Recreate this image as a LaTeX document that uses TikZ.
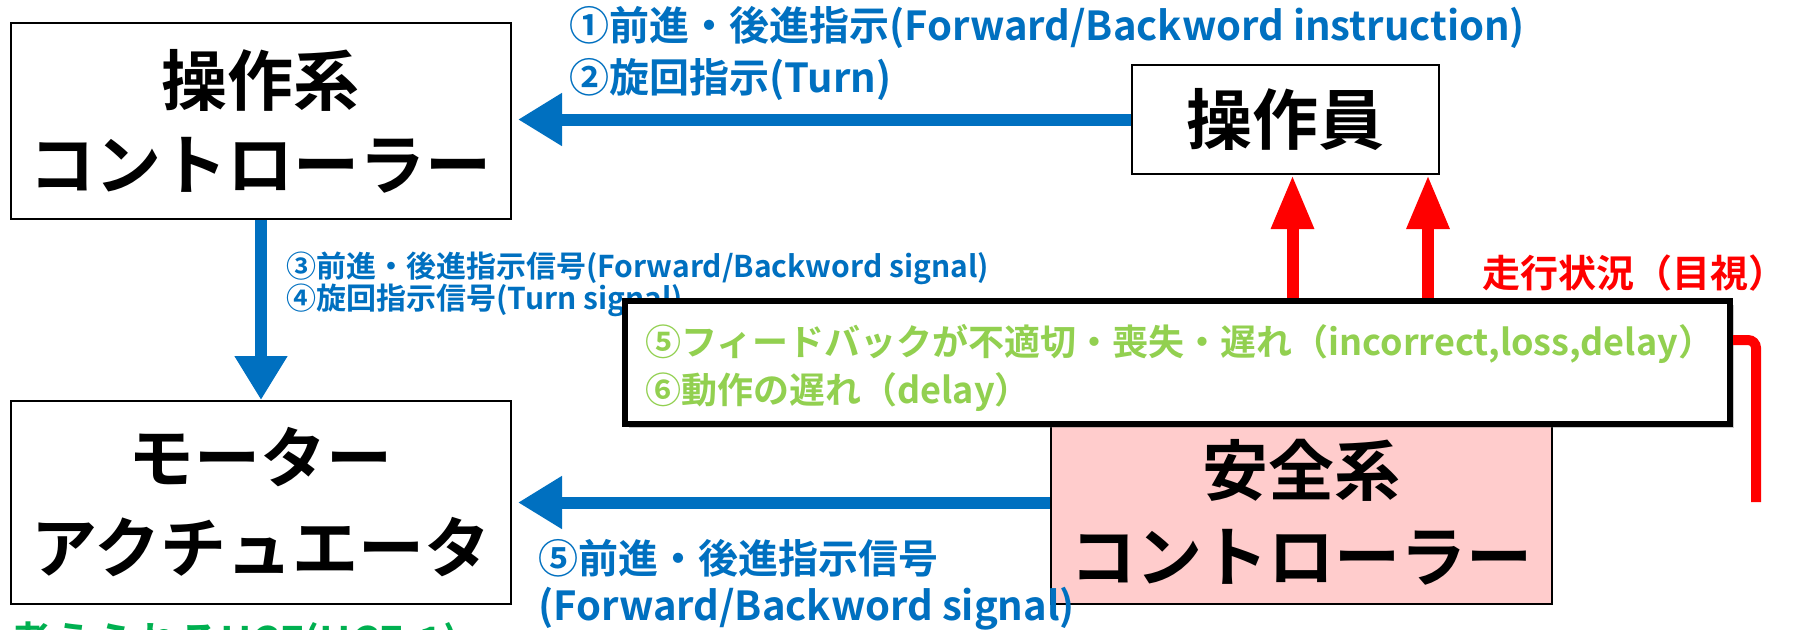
\documentclass[tikz,border=0pt]{standalone}
\usepackage{fontspec}
\newfontfamily\jp{Noto Sans CJK JP Bold}
\usetikzlibrary{arrows.meta,calc,shadows}
\definecolor{myblue}{HTML}{0070C0}
\definecolor{myred}{HTML}{FF0000}
\definecolor{lgreen}{HTML}{92D050}
\definecolor{dgreen}{HTML}{00B050}
\definecolor{pinkfill}{HTML}{FFCCCC}
\tikzset{
  box/.style={draw=black, line width=1pt, fill=white, inner sep=0pt, align=center,
    font=\jp\fontsize{33}{42}\selectfont},
  bluearrow/.style={draw=myblue, line width=6pt, -{Triangle[width=25pt,length=22pt]}},
  redarrow/.style={draw=myred, line width=6pt, -{Triangle[width=20pt,length=27pt]}},
  lbl/.style={inner sep=0pt, anchor=base west},
  bluelbl/.style={lbl, text=myblue, font=\jp\fontsize{20}{24}\selectfont},
  smalllbl/.style={lbl, text=myblue, font=\jp\fontsize{15}{18}\selectfont},
  greenlbl/.style={lbl, text=lgreen, font=\jp\fontsize{18}{22}\selectfont},
}
\begin{document}
\begin{tikzpicture}[x=0.5pt,y=-0.5pt]
\useasboundingbox (0,0) rectangle (1796,629);
\clip (0,0) rectangle (1796,629);
\fill[white] (0,0) rectangle (1796,629);

% boxes
\node[box, minimum width=250pt, minimum height=98pt] (A) at (261,121) {操作系\\コントローラー};
\node[box, minimum width=153.5pt, minimum height=54.5pt] (B) at (1285.5,119.5) {操作員};
\node[box, minimum width=250pt, minimum height=101.5pt, font=\jp\fontsize{33}{45}\selectfont] (C) at (261,502.5) {モーター\\アクチュエータ};
\node[box, fill=pinkfill, minimum width=250.5pt, minimum height=92pt, font=\jp\fontsize{33}{43}\selectfont] (D) at (1301.5,512) {安全系\\コントローラー};

% blue labels
\node[bluelbl] (L1) at (569,40) {①前進・後進指示(Forward/Backword instruction)};
\node[bluelbl] (L2) at (569,92) {②旋回指示(Turn)};
\node[smalllbl] (L3) at (286,277) {③前進・後進指示信号(Forward/Backword signal)};
\node[smalllbl] (L4) at (286,309) {④旋回指示信号(Turn signal)};
\node[bluelbl] (L5) at (538,573) {⑤前進・後進指示信号};
\node[bluelbl] (L6) at (538,620) {(Forward/Backword signal)};
\node[lbl, text=myred, font=\jp\fontsize{19}{22}\selectfont, anchor=base east] (R) at (1787,287) {走行状況（目視）};
\node[lbl, text=dgreen, font=\jp\fontsize{21}{24}\selectfont] (U) at (10,657) {考えられるUCF(UCF-1)};

% blue arrows
\draw[bluearrow, shorten >=3pt] (B.west) -- (B.west -| A.east);
\draw[bluearrow] (A.south) -- (C.north);
\draw[bluearrow, shorten >=3pt] (C.east -| D.west) -- (C.east);

% feedback box
\node[draw=black, line width=3pt, fill=white, minimum width=552.5pt, minimum height=61.5pt, inner sep=0pt,
  drop shadow={shadow xshift=2pt, shadow yshift=-2pt, opacity=0.35, fill=black!60}] (E) at (1177.5,362.5) {};
\node[greenlbl] (G1) at (645,355) {⑤フィードバックが不適切・喪失・遅れ（incorrect,loss,delay）};
\node[greenlbl] (G2) at (645,403) {⑥動作の遅れ（delay）};

% red arrows
\coordinate (r1) at ($(B.south)+(7,0)$);
\coordinate (r2) at ($(B.south east)+(-12,0)$);
\draw[redarrow] (r1 |- E.north) -- (r1);
\draw[redarrow] (r2 |- E.north) -- (r2);
\coordinate (rc) at (1756,340);
\coordinate (re) at (1756,502);
\draw[myred, line width=5pt, rounded corners=4pt] (rc -| E.east) -- (rc) -- (re);
\end{tikzpicture}
\end{document}
